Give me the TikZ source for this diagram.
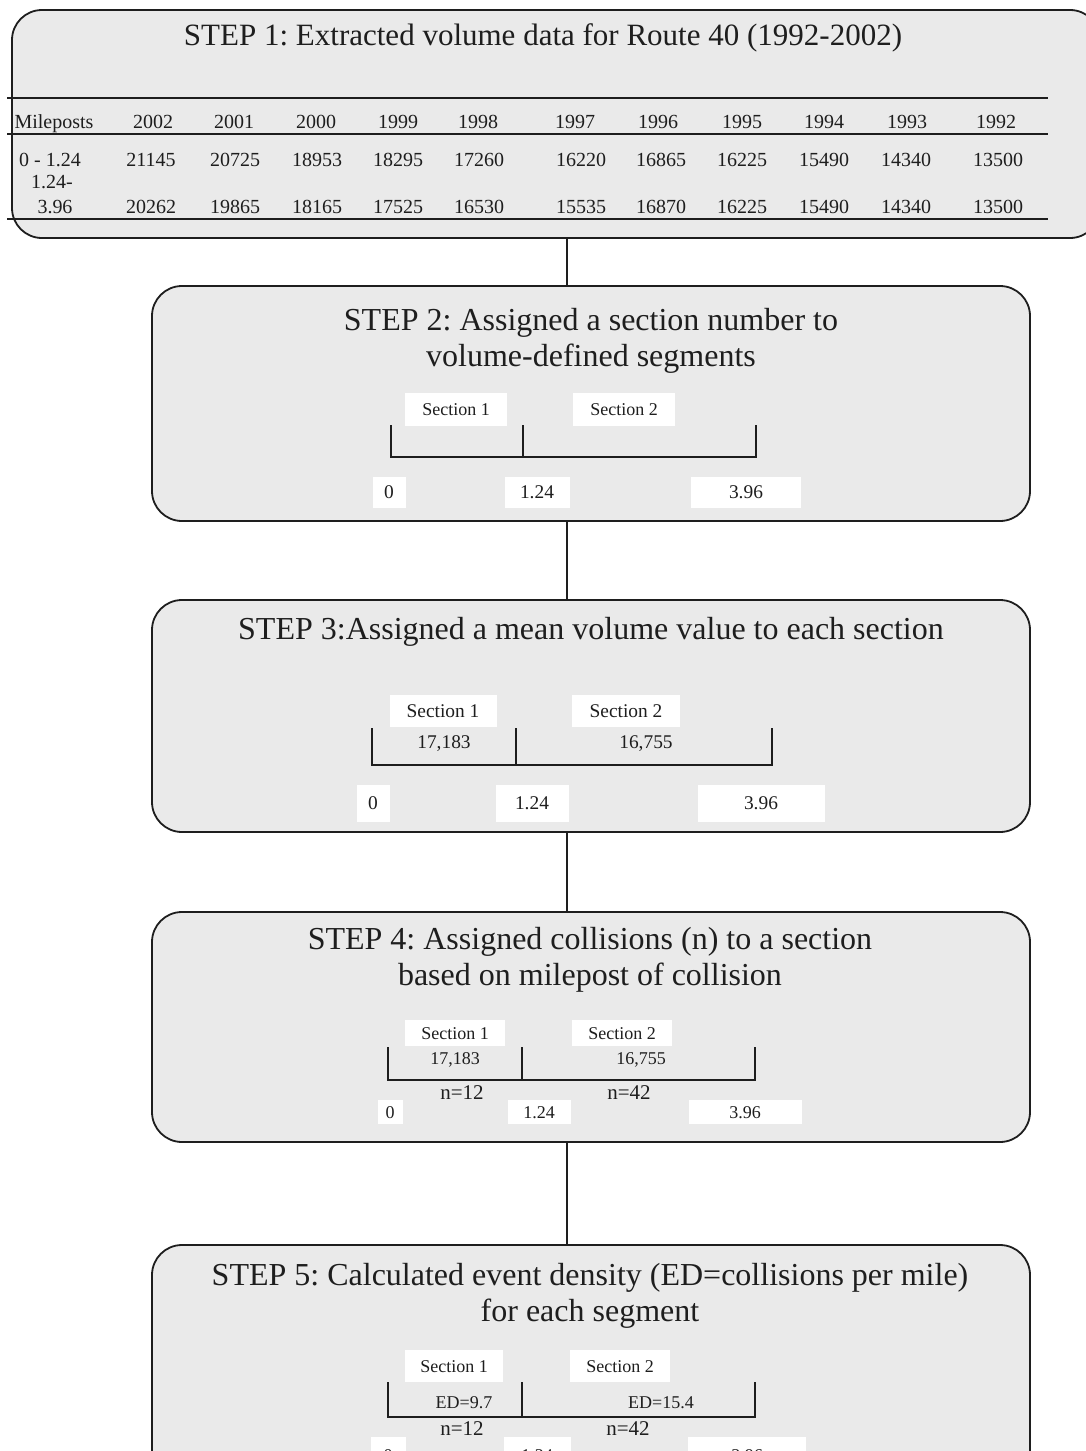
\documentclass[tikz,border=0pt]{standalone}
\usepackage{fontspec}
\setmainfont{Liberation Serif}
\usetikzlibrary{positioning,fit}
\definecolor{cpaper}{HTML}{EAEAEA}
\definecolor{cink}{HTML}{1E1E1E}
\tikzset{
  stepbox/.style={draw=cink, line width=0.9pt, fill=cpaper, rounded corners=15pt, inner sep=0pt},
  steptitle/.style={align=center, inner sep=0pt, font=\fontsize{16}{18}\selectfont},
  tabtext/.style={inner sep=0pt, text height=6.8pt, text depth=0pt, font=\fontsize{10}{11}\selectfont},
  sectag/.style={fill=white, inner sep=0pt, text height=6.2pt, text depth=0pt, font=\fontsize{9}{10}\selectfont},
  numtag/.style={inner sep=0pt, text height=6.2pt, text depth=0pt, font=\fontsize{9}{10}\selectfont},
  ntag/.style={inner sep=0pt, text height=7pt, text depth=0pt, font=\fontsize{10.5}{11}\selectfont},
  bar/.style={draw=cink, line width=0.8pt},
  link/.style={draw=cink, line width=0.7pt},
}
\frenchspacing

\begin{document}
\begin{tikzpicture}[x=0.5pt, y=-0.5pt, text=cink]
\clip (0,0) rectangle (1086,1451);
\fill[white] (0,0) rectangle (1086,1451);

% the five step boxes
\node[stepbox, fit={(12,10) (1100,238)}] (s1) {};
\node[stepbox, fit={(152,286) (1030,521)}] (s2) {};
\node[stepbox, fit={(152,600) (1030,832)}] (s3) {};
\node[stepbox, fit={(152,912) (1030,1142)}] (s4) {};
\node[stepbox, fit={(152,1245) (1030,1500)}] (s5) {};

% links between steps
\coordinate (spine) at (567,0);
\draw[link] (s1.south -| spine) -- (s2.north -| spine);
\draw[link] (s2.south -| spine) -- (s3.north -| spine);
\draw[link] (s3.south -| spine) -- (s4.north -| spine);
\draw[link] (s4.south -| spine) -- (s5.north -| spine);

% titles
\node[steptitle, font=\fontsize{15.5}{18}\selectfont] (t1) at (543,38) {STEP 1: Extracted volume data for Route 40 (1992-2002)};
\node[steptitle] (t2) at (591,341) {STEP 2: Assigned a section number to\\volume-defined segments};
\node[steptitle] (t3) at (591,632) {STEP 3:Assigned a mean volume value to each section};
\node[steptitle] (t4) at (590,960) {STEP 4: Assigned collisions (n) to a section\\based on milepost of collision};
\node[steptitle] (t5) at (590,1296) {STEP 5: Calculated event density (ED=collisions per mile)\\for each segment};

% step 1: volume table
\draw[bar] (7,98) -- (1048,98);
\draw[bar] (7,134) -- (1048,134);
\draw[bar] (7,219) -- (1048,219);
\node[tabtext] (mp) at (54,122) {Mileposts};
\node[tabtext] (mpa) at (50,160) {0 - 1.24};
\node[tabtext] (mpb) at (52,182) {1.24-};
\node[tabtext] (mpc) at (55,207) {3.96};
\foreach \hx/\vx/\yr/\va/\vb [count=\i] in {153/151/2002/21145/20262, 234/235/2001/20725/19865,
    316/317/2000/18953/18165, 398/398/1999/18295/17525, 478/479/1998/17260/16530,
    575/581/1997/16220/15535, 658/661/1996/16865/16870, 742/742/1995/16225/16225,
    824/824/1994/15490/15490, 907/906/1993/14340/14340, 996/998/1992/13500/13500} {
  \node[tabtext] (yr\i) at (\hx,122) {\yr};
  \node[tabtext] (va\i) at (\vx,160) {\va};
  \node[tabtext] (vb\i) at (\vx,207) {\vb};
}

% step 2: sections
\node[sectag, minimum width=51pt, minimum height=16.5pt] (a1) at (456,409) {Section 1};
\node[sectag, minimum width=51pt, minimum height=16.5pt] (a2) at (624,409) {Section 2};
\draw[bar] (391,425) -- (391,457) -- (756,457) -- (756,425);
\draw[bar] (523,425) -- (523,457);
\node[sectag, font=\fontsize{9.7}{10}\selectfont, minimum width=16.5pt, minimum height=15.5pt] (am0) at (389,492) {0};
\node[sectag, font=\fontsize{9.7}{10}\selectfont, minimum width=32.5pt, minimum height=15.5pt] (am1) at (537,492) {1.24};
\node[sectag, font=\fontsize{9.7}{10}\selectfont, minimum width=55pt, minimum height=15.5pt] (am2) at (746,492) {3.96};

% step 3: mean volumes
\node[sectag, font=\fontsize{9.7}{10}\selectfont, minimum width=53.5pt, minimum height=16pt] (b1) at (443,711) {Section 1};
\node[sectag, font=\fontsize{9.7}{10}\selectfont, minimum width=54pt, minimum height=16pt] (b2) at (626,711) {Section 2};
\node[numtag, font=\fontsize{9.7}{10}\selectfont] (bv1) at (444,742) {17,183};
\node[numtag, font=\fontsize{9.7}{10}\selectfont] (bv2) at (646,742) {16,755};
\draw[bar] (372,728) -- (372,765) -- (772,765) -- (772,728);
\draw[bar] (516,728) -- (516,765);
\node[sectag, font=\fontsize{9.7}{10}\selectfont, minimum width=16.5pt, minimum height=18.5pt] (bm0) at (373,803) {0};
\node[sectag, font=\fontsize{9.7}{10}\selectfont, minimum width=36.5pt, minimum height=18.5pt] (bm1) at (532,803) {1.24};
\node[sectag, font=\fontsize{9.7}{10}\selectfont, minimum width=63.5pt, minimum height=18.5pt] (bm2) at (761,803) {3.96};

% step 4: collisions
\node[sectag, minimum width=50pt, minimum height=13pt] (c1) at (455,1033) {Section 1};
\node[sectag, minimum width=50pt, minimum height=13pt] (c2) at (622,1033) {Section 2};
\node[numtag] (cv1) at (455,1058) {17,183};
\node[numtag] (cv2) at (641,1058) {16,755};
\draw[bar] (388,1047) -- (388,1080) -- (755,1080) -- (755,1047);
\draw[bar] (522,1047) -- (522,1080);
\node[ntag] (cn1) at (462,1092) {n=12};
\node[ntag] (cn2) at (629,1092) {n=42};
\node[sectag, minimum width=12.5pt, minimum height=12pt] (cm0) at (390,1112) {0};
\node[sectag, minimum width=31.5pt, minimum height=12pt] (cm1) at (539,1112) {1.24};
\node[sectag, minimum width=56.5pt, minimum height=12pt] (cm2) at (745,1112) {3.96};

% step 5: event density
\node[sectag, minimum width=49pt, minimum height=16pt] (d1) at (454,1366) {Section 1};
\node[sectag, minimum width=50pt, minimum height=16pt] (d2) at (620,1366) {Section 2};
\node[numtag] (dv1) at (464,1402) {ED=9.7};
\node[numtag] (dv2) at (661,1402) {ED=15.4};
\draw[bar] (388,1382) -- (388,1417) -- (755,1417) -- (755,1382);
\draw[bar] (522,1382) -- (522,1417);
\node[ntag] (dn1) at (462,1428) {n=12};
\node[ntag] (dn2) at (628,1428) {n=42};
\node[sectag, minimum width=17.5pt, minimum height=18pt] (dm0) at (388,1455) {0};
\node[sectag, minimum width=33.5pt, minimum height=18pt] (dm1) at (537,1455) {1.24};
\node[sectag, minimum width=59pt, minimum height=18pt] (dm2) at (747,1455) {3.96};
\end{tikzpicture}
\end{document}
